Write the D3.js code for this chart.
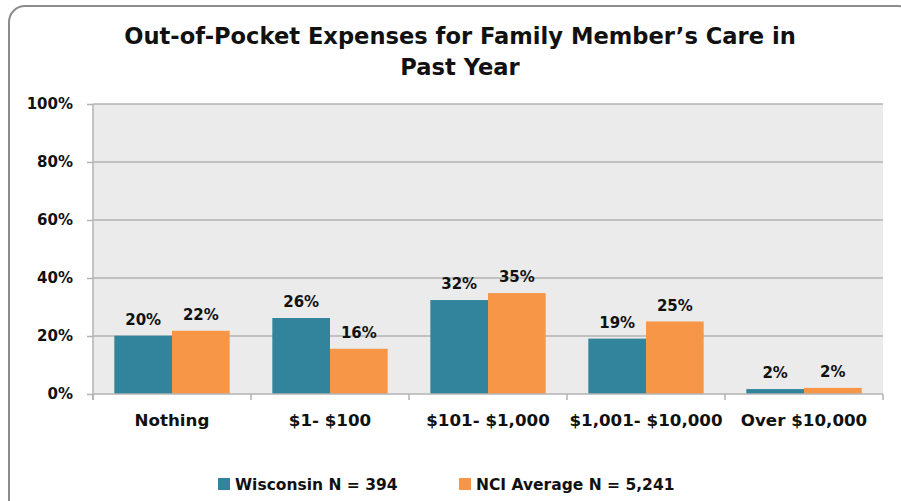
<!DOCTYPE html>
<html>
<head>
<meta charset="utf-8">
<script src="https://cdn.jsdelivr.net/npm/d3@7"></script>
<style>
  body { margin: 0; background: #fff; }
  text { font-family: "DejaVu Sans", sans-serif; font-weight: bold; fill: #111; }
</style>
</head>
<body>
<div id="chart"></div>
<script>
const width = 901;
const height = 501;

const categories = ["Nothing", "$1- $100", "$101- $1,000", "$1,001- $10,000", "Over $10,000"];
const seriesNames = ["Wisconsin N = 394", "NCI Average N = 5,241"];
const wisconsin = [20.1, 26.2, 32.4, 19.1, 1.7];
const nciAverage = [21.8, 15.6, 34.8, 25.0, 2.1];
const yTicks = [0, 20, 40, 60, 80, 100];
const colors = ["#31849B", "#F79646"];

const plot = { left: 93, right: 883, top: 104, bottom: 394 };

const svg = d3.select("#chart")
  .append("svg")
    .attr("width", width)
    .attr("height", height);

// outer rounded frame
svg.append("rect")
  .attr("x", 9)
  .attr("y", 6)
  .attr("width", 905)
  .attr("height", 510)
  .attr("rx", 16)
  .attr("fill", "none")
  .attr("stroke", "#8c8c8c")
  .attr("stroke-width", 2);

// title
const title = svg.append("text")
  .attr("text-anchor", "middle")
  .style("font-size", "22.6px");
title.append("tspan").attr("x", 460).attr("y", 44).text("Out-of-Pocket Expenses for Family Member\u2019s Care in");
title.append("tspan").attr("x", 460).attr("y", 75).text("Past Year");

const x0 = d3.scaleBand()
  .domain(categories)
  .range([plot.left, plot.right])
  .padding(0);

const x1 = d3.scaleBand()
  .domain(seriesNames)
  .range([0, x0.bandwidth()])
  .paddingInner(0)
  .paddingOuter(0.37);

const y = d3.scaleLinear()
  .domain([0, 100])
  .range([plot.bottom, plot.top]);

// plot background
svg.append("rect")
  .attr("x", plot.left)
  .attr("y", plot.top)
  .attr("width", plot.right - plot.left)
  .attr("height", plot.bottom - plot.top)
  .attr("fill", "#ebebeb");

// gridlines
svg.selectAll(".grid")
  .data(yTicks.filter(d => d > 0))
  .enter()
  .append("line")
    .attr("x1", plot.left)
    .attr("x2", plot.right)
    .attr("y1", d => y(d))
    .attr("y2", d => y(d))
    .attr("stroke", "#b3b3b3")
    .attr("stroke-width", 1.5);

// y axis
const yAxis = svg.append("g")
  .attr("transform", `translate(${plot.left},0)`)
  .call(d3.axisLeft(y).tickValues(yTicks).tickFormat(d => d + "%").tickSize(6).tickPadding(14));
yAxis.select(".domain").remove();
yAxis.selectAll(".tick line").attr("stroke", "#b3b3b3").attr("stroke-width", 1.5);
yAxis.selectAll("text").style("font-size", "15px").attr("font-family", null).attr("fill", "#111");
yAxis.append("line")
  .attr("x1", 0).attr("x2", 0)
  .attr("y1", plot.top).attr("y2", plot.bottom + 6)
  .attr("stroke", "#b3b3b3")
  .attr("stroke-width", 1.5);

const data = [wisconsin, nciAverage];

// bars
data.forEach((values, s) => {
  svg.selectAll(".bar-" + s)
    .data(values)
    .enter()
    .append("rect")
      .attr("x", (d, i) => x0(categories[i]) + x1(seriesNames[s]))
      .attr("y", d => y(d))
      .attr("width", x1.bandwidth())
      .attr("height", d => y(0) - y(d))
      .attr("fill", colors[s]);

  svg.selectAll(".label-" + s)
    .data(values)
    .enter()
    .append("text")
      .attr("x", (d, i) => x0(categories[i]) + x1(seriesNames[s]) + x1.bandwidth() / 2)
      .attr("y", d => y(d) - 11)
      .attr("text-anchor", "middle")
      .style("font-size", "15px")
      .text(d => Math.round(d) + "%");
});

// x axis
const xAxis = svg.append("g")
  .attr("transform", `translate(0,${plot.bottom})`);
xAxis.append("line")
  .attr("x1", plot.left).attr("x2", plot.right)
  .attr("stroke", "#b3b3b3")
  .attr("stroke-width", 1.5);
xAxis.selectAll(".xtick")
  .data(categories.concat([null]))
  .enter()
  .append("line")
    .attr("x1", d => d === null ? plot.right : x0(d))
    .attr("x2", d => d === null ? plot.right : x0(d))
    .attr("y1", 0).attr("y2", 6)
    .attr("stroke", "#b3b3b3")
    .attr("stroke-width", 1.5);
xAxis.selectAll(".xlabel")
  .data(categories)
  .enter()
  .append("text")
    .attr("x", d => x0(d) + x0.bandwidth() / 2)
    .attr("y", 32)
    .attr("text-anchor", "middle")
    .style("font-size", "16.7px")
    .text(d => d);

// legend
const legendX = [218, 459];
seriesNames.forEach((name, i) => {
  const g = svg.append("g").attr("transform", `translate(${legendX[i]},478)`);
  g.append("rect")
    .attr("width", 12)
    .attr("height", 12)
    .attr("fill", colors[i]);
  g.append("text")
    .attr("x", 17)
    .attr("y", 12)
    .style("font-size", "15.5px")
    .text(name);
});
</script>
</body>
</html>
